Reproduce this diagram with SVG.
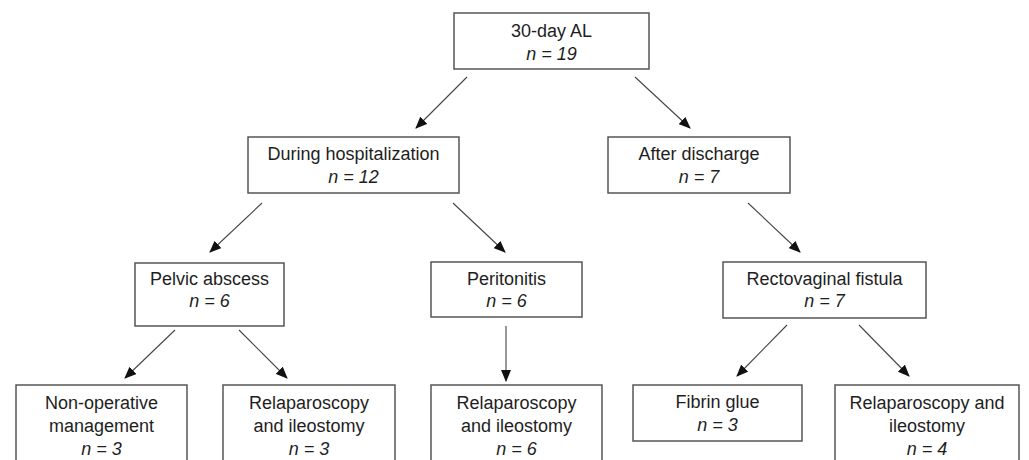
<svg xmlns="http://www.w3.org/2000/svg" width="1029" height="460" viewBox="0 0 1029 460">
<style>
.box{fill:#fff;stroke:#555;stroke-width:1.5}
.t{font-family:"Liberation Sans",Arial,sans-serif;font-size:18px;fill:#1e1e1e;text-anchor:middle}
.n{font-style:italic}
.c{stroke:#444;stroke-width:1.1;fill:none}
</style>
<defs>
<marker id="ah" markerWidth="12" markerHeight="10" refX="11" refY="5" orient="auto" markerUnits="userSpaceOnUse">
<path d="M0,0 L12,5 L0,10 Z" fill="#111"/>
</marker>
</defs>
<rect width="1029" height="460" fill="#fff"/>
<g id="connectors">
<line class="c" x1="467" y1="77" x2="416" y2="128" marker-end="url(#ah)"/>
<line class="c" x1="635" y1="77" x2="690" y2="128" marker-end="url(#ah)"/>
<line class="c" x1="262" y1="203" x2="210" y2="252" marker-end="url(#ah)"/>
<line class="c" x1="453" y1="203" x2="505" y2="252" marker-end="url(#ah)"/>
<line class="c" x1="748" y1="203" x2="800" y2="252" marker-end="url(#ah)"/>
<line class="c" x1="175" y1="330" x2="125" y2="378" marker-end="url(#ah)"/>
<line class="c" x1="239" y1="330" x2="287" y2="378" marker-end="url(#ah)"/>
<line class="c" x1="506" y1="326" x2="506" y2="381" marker-end="url(#ah)"/>
<line class="c" x1="787" y1="325" x2="737" y2="376" marker-end="url(#ah)"/>
<line class="c" x1="859" y1="325" x2="909" y2="376" marker-end="url(#ah)"/>
</g>
<g id="n-top">
<rect class="box" x="454" y="13" width="195" height="56"/>
<text class="t" x="551.5" y="37">30-day AL</text>
<text class="t n" x="551.5" y="60">n = 19</text>
</g>
<g id="n-dh">
<rect class="box" x="248" y="137" width="211" height="56"/>
<text class="t" x="353.5" y="160">During hospitalization</text>
<text class="t n" x="353.5" y="183">n = 12</text>
</g>
<g id="n-ad">
<rect class="box" x="608" y="137" width="182" height="56"/>
<text class="t" x="699" y="160">After discharge</text>
<text class="t n" x="699" y="183">n = 7</text>
</g>
<g id="n-pa">
<rect class="box" x="135" y="263" width="149" height="63"/>
<text class="t" x="209.5" y="285">Pelvic abscess</text>
<text class="t n" x="209.5" y="307">n = 6</text>
</g>
<g id="n-per">
<rect class="box" x="431" y="262" width="151" height="55"/>
<text class="t" x="506.5" y="285">Peritonitis</text>
<text class="t n" x="506.5" y="307">n = 6</text>
</g>
<g id="n-rv">
<rect class="box" x="723" y="262" width="203" height="56"/>
<text class="t" x="824.5" y="285">Rectovaginal fistula</text>
<text class="t n" x="824.5" y="307">n = 7</text>
</g>
<g id="n-nonop">
<rect class="box" x="16" y="385" width="171" height="90"/>
<text class="t" x="101.5" y="409">Non-operative</text>
<text class="t" x="101.5" y="432">management</text>
<text class="t n" x="101.5" y="455">n = 3</text>
</g>
<g id="n-rel1">
<rect class="box" x="223" y="385" width="172" height="90"/>
<text class="t" x="309" y="409">Relaparoscopy</text>
<text class="t" x="309" y="432">and ileostomy</text>
<text class="t n" x="309" y="455">n = 3</text>
</g>
<g id="n-rel2">
<rect class="box" x="431" y="385" width="171" height="90"/>
<text class="t" x="516.5" y="409">Relaparoscopy</text>
<text class="t" x="516.5" y="432">and ileostomy</text>
<text class="t n" x="516.5" y="455">n = 6</text>
</g>
<g id="n-fib">
<rect class="box" x="633" y="385" width="169" height="56"/>
<text class="t" x="717.5" y="408">Fibrin glue</text>
<text class="t n" x="717.5" y="431">n = 3</text>
</g>
<g id="n-rel3">
<rect class="box" x="835" y="385" width="184" height="90"/>
<text class="t" x="927" y="409">Relaparoscopy and</text>
<text class="t" x="927" y="432">ileostomy</text>
<text class="t n" x="927" y="455">n = 4</text>
</g>
</svg>
